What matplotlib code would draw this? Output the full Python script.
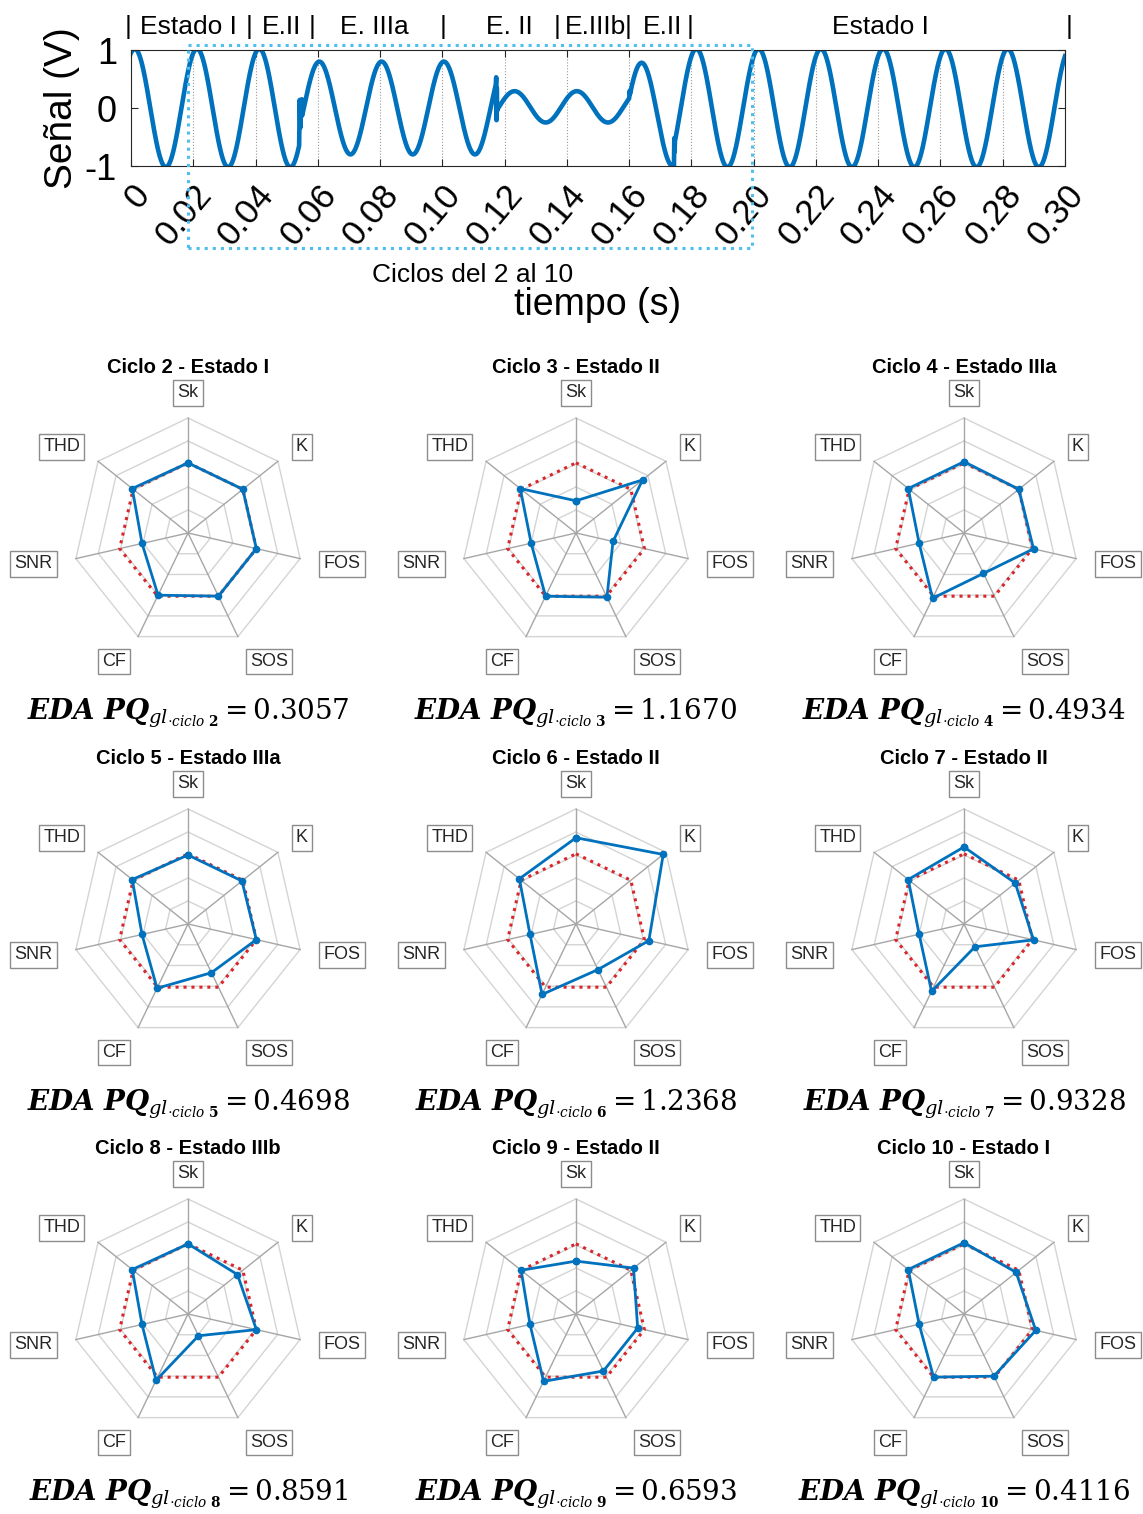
import numpy as np
import matplotlib.pyplot as plt
from matplotlib.patches import Rectangle
from matplotlib.transforms import blended_transform_factory

plt.rcParams['font.family'] = ['Liberation Sans', 'DejaVu Sans']
plt.rcParams['mathtext.fontset'] = 'custom'
plt.rcParams['mathtext.rm'] = 'DejaVu Serif'
plt.rcParams['mathtext.it'] = 'DejaVu Serif:italic'
plt.rcParams['mathtext.bf'] = 'DejaVu Serif:bold:italic'
plt.rcParams['mathtext.sf'] = 'DejaVu Serif:bold'

W, H = 1143, 1514
azul = '#0072BD'

# --- señal: tramos (inicio, fin, amplitud, offset, retardo del pico) ---
f0 = 50
seg_ini = [0.0, 0.0550, 0.1177, 0.1603, 0.1747]
seg_fin = [0.0540, 0.1172, 0.1600, 0.1744, 0.30]
seg_amp = [1.02, 0.80, 0.27, 0.89, 1.02]
seg_off = [0.0, 0.0, 0.02, -0.11, 0.0]
seg_ret = [0.0012, 0.0005, 0.0032, 0.0040, 0.0016]

# transitorios entre tramos
trans_t = [[0.0541, 0.0542, 0.0544, 0.0545, 0.0547, 0.0549],
           [0.1173, 0.1174, 0.1175, 0.1176],
           [0.1601, 0.1602],
           [0.1745, 0.1746]]
trans_v = [[-0.30, 0.14, -0.34, 0.10, -0.15, 0.15],
           [0.53, -0.21, 0.35, -0.05],
           [0.22, 0.30],
           [-0.52, -0.76]]

xticks = [0, 0.02, 0.04, 0.06, 0.08, 0.10, 0.12, 0.14, 0.16, 0.18, 0.20,
          0.22, 0.24, 0.26, 0.28, 0.30]
xtick_labels = ['0', '0.02', '0.04', '0.06', '0.08', '0.10', '0.12', '0.14',
                '0.16', '0.18', '0.20', '0.22', '0.24', '0.26', '0.28', '0.30']

estados = ['Estado I', 'E.II', 'E. IIIa', 'E. II', 'E.IIIb', 'E.II', 'Estado I']
estados_x = [0.0183, 0.0482, 0.0781, 0.1214, 0.1491, 0.1706, 0.2406]
separadores_x = [-0.001, 0.0379, 0.0581, 0.1002, 0.1368, 0.1597, 0.1796, 0.3013]
ventana = [0.0183, 0.1995]

# --- radares ---
ejes = ['Sk', 'K', 'FOS', 'SOS', 'CF', 'SNR', 'THD']
referencia = [0.61, 0.61, 0.61, 0.61, 0.61, 0.61, 0.61]
titulos = ['Ciclo 2 - Estado I', 'Ciclo 3 - Estado II', 'Ciclo 4 - Estado IIIa',
           'Ciclo 5 - Estado IIIa', 'Ciclo 6 - Estado II', 'Ciclo 7 - Estado II',
           'Ciclo 8 - Estado IIIb', 'Ciclo 9 - Estado II', 'Ciclo 10 - Estado I']
ciclos = ['2', '3', '4', '5', '6', '7', '8', '9', '10']
eda = ['0.3057', '1.1670', '0.4934', '0.4698', '1.2368', '0.9328',
       '0.8591', '0.6593', '0.4116']

ciclo2 = [0.61, 0.61, 0.61, 0.61, 0.60, 0.41, 0.62]
ciclo3 = [0.28, 0.74, 0.33, 0.62, 0.61, 0.40, 0.62]
ciclo4 = [0.62, 0.61, 0.62, 0.39, 0.63, 0.40, 0.62]
ciclo5 = [0.60, 0.60, 0.61, 0.47, 0.62, 0.41, 0.62]
ciclo6 = [0.75, 0.97, 0.65, 0.44, 0.68, 0.41, 0.63]
ciclo7 = [0.67, 0.57, 0.62, 0.22, 0.65, 0.40, 0.62]
ciclo8 = [0.61, 0.55, 0.61, 0.21, 0.64, 0.41, 0.62]
ciclo9 = [0.46, 0.64, 0.55, 0.55, 0.65, 0.41, 0.61]
ciclo10 = [0.62, 0.58, 0.64, 0.60, 0.61, 0.40, 0.62]
valores = [ciclo2, ciclo3, ciclo4, ciclo5, ciclo6, ciclo7, ciclo8, ciclo9, ciclo10]

fig = plt.figure(figsize=(W / 100, H / 100), dpi=100)

# ================= señal =================
ax = fig.add_axes([131 / W, 1 - 166 / H, 934 / W, 116 / H])
t_all, y_all = [], []
for i in range(len(seg_ini)):
    t = np.linspace(seg_ini[i], seg_fin[i], int((seg_fin[i] - seg_ini[i]) * 40000) + 2)
    y = seg_amp[i] * np.cos(2 * np.pi * f0 * (t - seg_ret[i])) + seg_off[i]
    t_all.append(t)
    y_all.append(y)
    if i < len(trans_t):
        t_all.append(np.array(trans_t[i]))
        y_all.append(np.array(trans_v[i]))
ax.plot(np.concatenate(t_all), np.concatenate(y_all), color=azul, lw=3.3)

ax.set_xlim(0, 0.30)
ax.set_ylim(-1, 1)
ax.set_xticks(xticks)
ax.set_xticklabels(xtick_labels, rotation=50, ha='right', va='top',
                   rotation_mode='anchor', fontsize=25)
ax.set_yticks([-1, 0, 1])
ax.set_yticklabels(['-1', '0', '1'], fontsize=26)
ax.tick_params(direction='in', length=5, top=True, right=True, width=0.8,
               color='#262626')
ax.tick_params(axis='x', pad=9)
ax.tick_params(axis='y', pad=10)
ax.grid(axis='x', ls=':', color='#9a9a9a', lw=0.8)
for s in ax.spines.values():
    s.set_color('#262626')
    s.set_linewidth(0.8)

ax.set_ylabel('Señal (V)', fontsize=28)
ax.yaxis.set_label_coords(-0.074, 0.5)
ax.yaxis.label.set_va('center')
ax.set_xlabel('tiempo (s)', fontsize=27)
ax.xaxis.set_label_coords(0.5, -1.2)
ax.xaxis.label.set_va('center')

trans = blended_transform_factory(ax.transData, ax.transAxes)
for lab, x in zip(estados, estados_x):
    ax.text(x, 1.2, lab, transform=trans, ha='center', va='center', fontsize=19)
for x in separadores_x:
    ax.text(x, 1.2, '|', transform=trans, ha='center', va='center', fontsize=19)

trans_f = blended_transform_factory(ax.transData, fig.transFigure)
rect = Rectangle((ventana[0], 1 - 248 / H), ventana[1] - ventana[0], 203 / H,
                 fill=False, ls=':', lw=2.2, ec='#4DBEEE', transform=trans_f,
                 clip_on=False)
fig.add_artist(rect)
fig.text(473 / W, 1 - 275 / H, 'Ciclos del 2 al 10', fontsize=19,
         ha='center', va='center')

# ================= radares =================
R = 115
cx_list = [188, 576, 964]
cy_list = [533, 924, 1314]
ang = np.deg2rad(90 - 360 / 7 * np.arange(7))
lab_r = [1.22, 1.2, 1.21, 1.24, 1.24, 1.21, 1.2]


def cerrar(v):
    v = np.asarray(v)
    return np.append(v * np.cos(ang), v[0] * np.cos(ang[0])), \
        np.append(v * np.sin(ang), v[0] * np.sin(ang[0]))


for k in range(9):
    cx = cx_list[k % 3]
    cy = cy_list[k // 3]
    lado = 2 * 1.6 * R
    a = fig.add_axes([(cx - lado / 2) / W, 1 - (cy + lado / 2) / H, lado / W, lado / H])
    a.set_xlim(-1.6, 1.6)
    a.set_ylim(-1.6, 1.6)
    a.set_aspect('equal')
    a.axis('off')

    for nivel in [0.2, 0.4, 0.6, 0.8, 1.0]:
        x, y = cerrar([nivel] * 7)
        a.plot(x, y, color='#d4d4d4', lw=1.0, zorder=1)
    for th in ang:
        a.plot([0, np.cos(th)], [0, np.sin(th)], color='#a6a6a6', lw=1.0, zorder=1)

    x, y = cerrar(referencia)
    a.plot(x, y, color='#d9262b', ls=(0, (1, 1.6)), lw=2.2, zorder=2)
    x, y = cerrar(valores[k])
    a.plot(x, y, color=azul, lw=2.0, marker='o', ms=4.5, zorder=3)

    for j, nombre in enumerate(ejes):
        c, s = np.cos(ang[j]), np.sin(ang[j])
        ha = 'center' if abs(c) < 0.1 else ('left' if c > 0 else 'right')
        a.text(lab_r[j] * c, lab_r[j] * s, nombre, ha=ha, va='center', fontsize=13,
               color='#262626',
               bbox=dict(boxstyle='square,pad=0.24', fc='white', ec='#8c8c8c', lw=1))

    a.text(0, 1.44, titulos[k], ha='center', va='center', fontsize=14.5,
           fontweight='bold', color='black')
    a.text(0, -1.57,
           r'$\mathbf{EDA\ PQ}_{gl_{\cdot ciclo\ \mathsf{' + ciclos[k] + r'}}} = '
           + eda[k] + '$', ha='center', va='center', fontsize=20)

fig.savefig('out.png', dpi=100)
